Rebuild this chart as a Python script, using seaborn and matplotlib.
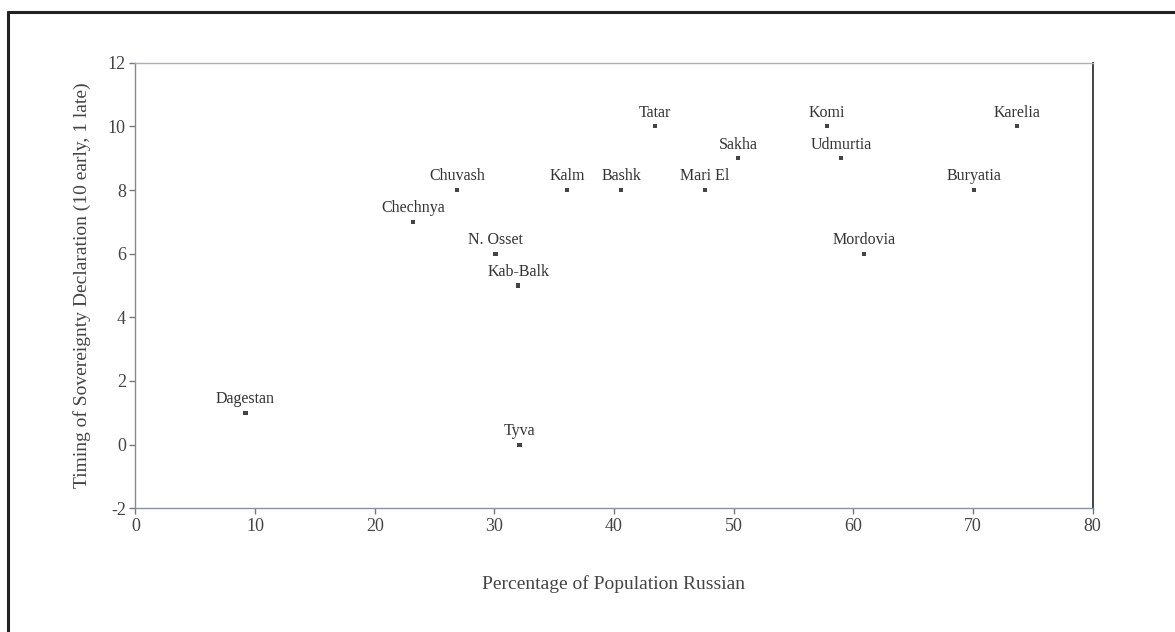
import pandas as pd
import seaborn as sns
import matplotlib.pyplot as plt
from matplotlib.lines import Line2D

# values
regions = ['Dagestan', 'Chechnya', 'Chuvash', 'N. Osset', 'Kab-Balk', 'Tyva',
           'Kalm', 'Bashk', 'Tatar', 'Mari El', 'Sakha', 'Komi', 'Udmurtia',
           'Mordovia', 'Buryatia', 'Karelia']
pct_russian = [9.2, 23.2, 26.9, 30.1, 32.0, 32.1, 36.1, 40.6, 43.4, 47.6,
               50.4, 57.8, 59.0, 60.9, 70.1, 73.7]
timing = [1, 7, 8, 6, 5, 0, 8, 8, 10, 8, 9, 10, 9, 6, 8, 10]

x_ticks = [0, 10, 20, 30, 40, 50, 60, 70, 80]
y_ticks = [-2, 0, 2, 4, 6, 8, 10, 12]

df = pd.DataFrame({'region': regions, 'pct': pct_russian, 'timing': timing})

sns.set_style('white')
plt.rcParams['font.family'] = ['Liberation Serif', 'DejaVu Serif']
plt.rcParams['axes.unicode_minus'] = False

fig = plt.figure(figsize=(11.75, 6.32), dpi=100)
ax = fig.add_axes([0.1153, 0.1957, 0.8145, 0.7051])

sns.scatterplot(data=df, x='pct', y='timing', marker='s', s=9,
                color='#444444', edgecolor='none', ax=ax)

# region names sit just above each point
for _, row in df.iterrows():
    ax.annotate(row['region'], (row['pct'], row['timing']),
                xytext=(0, 4), textcoords='offset points',
                ha='center', va='bottom', fontsize=11.5, color='#333333')

ax.set_xlim(0, 80)
ax.set_ylim(-2, 12)
ax.set_xticks(x_ticks)
ax.set_yticks(y_ticks)
ax.tick_params(axis='both', direction='out', length=4, width=1.0,
               color='#777777', labelsize=13, labelcolor='#444444', pad=3,
               left=True, bottom=True)

ax.set_xlabel('Percentage of Population Russian', fontsize=14,
              color='#444444', labelpad=29)
ax.set_ylabel('Timing of Sovereignty Declaration (10 early, 1 late)',
              fontsize=14, color='#444444', labelpad=12)

# spine colours as in the scan: pale top, dark right edge
ax.spines['top'].set_color('#a8b0c8')
ax.spines['left'].set_color('#888888')
ax.spines['bottom'].set_color('#8890a8')
ax.spines['right'].set_color('#444444')
ax.spines['right'].set_linewidth(1.4)
for side in ['top', 'left', 'bottom']:
    ax.spines[side].set_linewidth(1.0)

# outer frame of the scanned figure (top and left edges visible)
fig.add_artist(Line2D([8 / 1175, 1.0], [1 - 12 / 632, 1 - 12 / 632],
                      color='#222222', linewidth=2.2))
fig.add_artist(Line2D([8 / 1175, 8 / 1175], [0.0, 1 - 12 / 632],
                      color='#222222', linewidth=2.2))

fig.savefig('out.png', dpi=100)
